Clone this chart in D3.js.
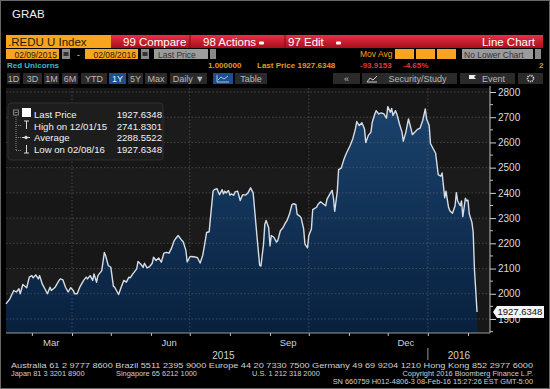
<!DOCTYPE html>
<html><head><meta charset="utf-8">
<script src="https://cdn.jsdelivr.net/npm/d3@7/dist/d3.min.js"></script>
<style>html,body{margin:0;padding:0;background:#000;overflow:hidden}svg{display:block}</style>
</head><body>
<script>
// ---------- data ----------
const dates = ["2015-02-09","2015-02-12","2015-02-15","2015-02-17","2015-02-19","2015-02-20","2015-02-22","2015-02-25","2015-02-27","2015-03-01","2015-03-02","2015-03-04","2015-03-06","2015-03-07","2015-03-09","2015-03-11","2015-03-13","2015-03-15","2015-03-16","2015-03-19","2015-03-22","2015-03-23","2015-03-25","2015-03-27","2015-03-29","2015-03-31","2015-04-02","2015-04-03","2015-04-05","2015-04-07","2015-04-10","2015-04-12","2015-04-13","2015-04-15","2015-04-17","2015-04-18","2015-04-20","2015-04-21","2015-04-24","2015-04-26","2015-04-27","2015-04-29","2015-05-01","2015-05-03","2015-05-04","2015-05-07","2015-05-09","2015-05-11","2015-05-13","2015-05-15","2015-05-16","2015-05-18","2015-05-21","2015-05-22","2015-05-24","2015-05-26","2015-05-27","2015-05-29","2015-05-31","2015-06-02","2015-06-03","2015-06-05","2015-06-07","2015-06-09","2015-06-11","2015-06-13","2015-06-15","2015-06-17","2015-06-19","2015-06-20","2015-06-22","2015-06-23","2015-06-25","2015-06-26","2015-06-28","2015-06-29","2015-07-01","2015-07-02","2015-07-05","2015-07-07","2015-07-09","2015-07-11","2015-07-13","2015-07-14","2015-07-16","2015-07-17","2015-07-19","2015-07-20","2015-07-22","2015-07-23","2015-07-24","2015-07-26","2015-07-27","2015-07-28","2015-07-29","2015-07-31","2015-08-01","2015-08-02","2015-08-04","2015-08-05","2015-08-07","2015-08-09","2015-08-10","2015-08-11","2015-08-13","2015-08-15","2015-08-17","2015-08-19","2015-08-20","2015-08-22","2015-08-24","2015-08-25","2015-08-27","2015-08-28","2015-08-29","2015-08-31","2015-09-01","2015-09-02","2015-09-04","2015-09-06","2015-09-07","2015-09-09","2015-09-11","2015-09-13","2015-09-14","2015-09-16","2015-09-18","2015-09-19","2015-09-21","2015-09-22","2015-09-24","2015-09-25","2015-09-27","2015-09-28","2015-09-30","2015-10-01","2015-10-03","2015-10-04","2015-10-07","2015-10-08","2015-10-10","2015-10-12","2015-10-14","2015-10-15","2015-10-17","2015-10-19","2015-10-20","2015-10-21","2015-10-23","2015-10-24","2015-10-26","2015-10-28","2015-10-30","2015-11-02","2015-11-04","2015-11-06","2015-11-07","2015-11-09","2015-11-11","2015-11-13","2015-11-14","2015-11-16","2015-11-18","2015-11-19","2015-11-21","2015-11-22","2015-11-24","2015-11-26","2015-11-28","2015-11-30","2015-12-01","2015-12-03","2015-12-04","2015-12-05","2015-12-07","2015-12-08","2015-12-10","2015-12-12","2015-12-13","2015-12-15","2015-12-17","2015-12-19","2015-12-20","2015-12-22","2015-12-24","2015-12-26","2015-12-28","2015-12-30","2015-12-31","2016-01-02","2016-01-03","2016-01-05","2016-01-07","2016-01-09","2016-01-11","2016-01-12","2016-01-14","2016-01-15","2016-01-17","2016-01-18","2016-01-20","2016-01-22","2016-01-23","2016-01-24","2016-01-26","2016-01-27","2016-01-28","2016-01-30","2016-01-31","2016-02-01","2016-02-02","2016-02-04","2016-02-05","2016-02-06","2016-02-08"];
const prices = [1960,1980,2013,2007,2020,2000,2037,2024,2066,2072,2063,2075,2059,2072,2039,2020,2000,2026,2013,2026,2053,2059,2055,2026,2007,2024,2013,2000,2000,2026,2053,2066,2059,2072,2053,2079,2046,2072,2092,2164,2151,2112,2105,2029,2026,1997,2026,2053,2046,2066,2063,2079,2099,2128,2118,2105,2121,2103,2108,2121,2145,2132,2142,2125,2161,2164,2161,2182,2211,2218,2231,2224,2211,2205,2172,2126,2146,2148,2146,2143,2122,2152,2211,2243,2246,2302,2407,2413,2417,2404,2393,2413,2396,2407,2400,2409,2391,2396,2391,2404,2407,2370,2383,2393,2391,2400,2420,2400,2341,2224,2113,2110,2197,2276,2291,2262,2190,2231,2224,2205,2211,2250,2262,2282,2289,2315,2354,2357,2354,2315,2308,2302,2257,2197,2182,2231,2257,2334,2343,2354,2365,2357,2349,2374,2393,2410,2381,2327,2407,2492,2498,2531,2557,2589,2615,2654,2683,2667,2678,2654,2600,2628,2641,2680,2713,2726,2713,2717,2713,2696,2741.8301,2720,2735,2707,2726,2713,2674,2641,2605,2641,2693,2654,2631,2641,2652,2657,2687,2733,2693,2667,2596,2576,2557,2472,2466,2479,2381,2407,2342,2329,2319,2349,2401,2368,2349,2368,2306,2379,2368,2371,2316,2284,2245,2095,1927.6348];
const yTicks = [1900,2000,2100,2200,2300,2400,2500,2600,2700,2800];
const monthLabels = [["2015-03-16","Mar"],["2015-06-15","Jun"],["2015-09-15","Sep"],["2015-12-15","Dec"]];
const yearLabels = [["2015-07-27","2015"],["2016-01-25","2016"]];
const quarterLines = ["2015-04-01","2015-07-01","2015-10-01","2016-01-01"];
const legendLabels = ["Last Price","High on 12/01/15","Average","Low on 02/08/16"];
const legendValues = ["1927.6348","2741.8301","2288.5522","1927.6348"];
const lastPriceLabel = "1927.6348";
const footerLines = [
 "Australia 61 2 9777 8600 Brazil 5511 2395 9000 Europe 44 20 7330 7500 Germany 49 69 9204 1210 Hong Kong 852 2977 6000",
 "Japan 81 3 3201 8900",
 "Singapore 65 6212 1000",
 "U.S. 1 212 318 2000",
 "Copyright 2016 Bloomberg Finance L.P.",
 "SN 660759 H012-4806-3 08-Feb-16 15:27:26 EST  GMT-5:00"
];

// ---------- setup ----------
const W = 550, H = 389;
const FONT = "'Liberation Sans', Arial, sans-serif";
const svg = d3.select("body").append("svg").attr("width", W).attr("height", H)
  .style("font-family", FONT);
svg.append("rect").attr("width", W).attr("height", H).attr("fill", "#000");
const defs = svg.append("defs");

const parse = d3.timeParse("%Y-%m-%d");
const data = dates.map((d, i) => ({date: parse(d), value: prices[i]}));

// plot area
const PL = 6, PR = 490, PT = 88, PB = 333;
const x = d3.scaleTime().domain([parse("2015-02-09"), parse("2016-02-18")]).range([PL, PR]);
const y = d3.scaleLinear().domain([1900, 2800]).range([319, 92]);

// ---------- header ----------
svg.append("text").attr("x", 12).attr("y", 18).attr("fill", "#f0f0f0")
  .attr("font-size", 11.5).text("GRAB");

const orange = "#f7a51e";
// row 1
svg.append("rect").attr("x", 6).attr("y", 35).attr("width", 105).attr("height", 13).attr("fill", orange);
svg.append("text").attr("x", 8).attr("y", 45.5).attr("font-size", 11.5).attr("fill", "#2a1a00").text(".REDU U Index");
const redGrad = defs.append("linearGradient").attr("id", "red").attr("x1", 0).attr("x2", 0).attr("y1", 0).attr("y2", 1);
redGrad.append("stop").attr("offset", 0).attr("stop-color", "#e83040");
redGrad.append("stop").attr("offset", 1).attr("stop-color", "#a80f1e");
svg.append("rect").attr("x", 111).attr("y", 35).attr("width", 432).attr("height", 13).attr("fill", "url(#red)");
[190, 285].forEach(xx => svg.append("line").attr("x1", xx).attr("x2", xx).attr("y1", 35).attr("y2", 48).attr("stroke", "#7a0a14"));
const redTexts = [[123, "99 Compare"], [203, "98 Actions"], [288, "97 Edit"]];
redTexts.forEach(t => svg.append("text").attr("x", t[0]).attr("y", 45.5).attr("font-size", 11.5).attr("fill", "#fff").text(t[1]));
[[259, 41.5], [336, 41.5]].forEach(p => svg.append("rect").attr("x", p[0]).attr("y", p[1]).attr("width", 5).attr("height", 3).attr("rx", 1).attr("fill", "#fff"));
svg.append("text").attr("x", 535).attr("y", 45.5).attr("font-size", 11.5).attr("fill", "#fff").attr("text-anchor", "end").text("Line Chart");

// row 2
function box(xx, yy, w, h, fill) { return svg.append("rect").attr("x", xx).attr("y", yy).attr("width", w).attr("height", h).attr("fill", fill); }
box(6, 49, 53, 10, orange);
svg.append("text").attr("x", 57).attr("y", 57.5).attr("font-size", 8.5).attr("fill", "#2a1a00").attr("text-anchor", "end").text("02/09/2015");
box(62, 49, 8, 10, "#8a8a8a"); box(63.5, 52, 5, 4, "#333");
svg.append("text").attr("x", 77).attr("y", 57.5).attr("font-size", 8.5).attr("fill", "#ddd").text("-");
box(85, 49, 53, 10, orange);
svg.append("text").attr("x", 136).attr("y", 57.5).attr("font-size", 8.5).attr("fill", "#2a1a00").attr("text-anchor", "end").text("02/08/2016");
box(141, 49, 8, 10, "#8a8a8a"); box(142.5, 52, 5, 4, "#333");
box(154, 49, 54, 10, "#9b9b9b");
svg.append("text").attr("x", 158).attr("y", 57.5).attr("font-size", 8.5).attr("fill", "#333").text("Last Price");
box(210, 49, 6, 10, "#8a8a8a");
svg.append("text").attr("x", 360).attr("y", 57).attr("font-size", 8.5).attr("fill", orange).text("Mov Avg");
[395, 416, 437].forEach(xx => box(xx, 49, 19, 10, orange));
box(462, 49, 71, 10, "#9b9b9b");
svg.append("text").attr("x", 464).attr("y", 57.5).attr("font-size", 8.5).attr("fill", "#333").text("No Lower Chart");
box(535, 49, 6, 10, "#8a8a8a");

// row 3
svg.append("text").attr("x", 7).attr("y", 68).attr("font-size", 8).attr("font-weight", "bold").attr("fill", "#3fb9c0").text("Red Unicorns");
svg.append("text").attr("x", 208).attr("y", 68).attr("font-size", 8).attr("font-weight", "bold").attr("fill", "#e09a20").text("1.000000");
svg.append("text").attr("x", 257).attr("y", 68).attr("font-size", 8).attr("font-weight", "bold").attr("fill", "#e09a20").text("Last Price 1927.6348");
svg.append("text").attr("x", 360).attr("y", 68).attr("font-size", 8).attr("font-weight", "bold").attr("fill", "#e8333a").text("-93.9153");
svg.append("text").attr("x", 403).attr("y", 68).attr("font-size", 8).attr("font-weight", "bold").attr("fill", "#e8333a").text("-4.65%");
svg.append("text").attr("x", 539).attr("y", 68).attr("font-size", 8).attr("font-weight", "bold").attr("fill", "#e09a20").text("2");

// row 4 buttons
const btns = [[7,13,"1D"],[23,19,"3D"],[44,15,"1M"],[62,16,"6M"],[81,26,"YTD"],[109,17,"1Y",1],[128,15,"5Y"],[145,22,"Max"],[170,37,"Daily ▼"],[213,20,"",1],[235,32,"Table"],[333,27,"«"],[362,95,"Security/Study"],[460,55,"Event"],[518,25,""]];
btns.forEach(b => {
  box(b[0], 73, b[1], 11, b[3] ? "#1d4f8f" : "#2a2a2a");
  if (b[2]) svg.append("text").attr("x", b[0] + b[1] / 2 + (b[2] === "Security/Study" ? 8 : b[2] === "Event" ? 6 : 0)).attr("y", 81.5)
    .attr("font-size", 9).attr("text-anchor", "middle").attr("fill", b[3] ? "#e8eef8" : "#b8b8b8").text(b[2]);
});
// chart icon
svg.append("path").attr("d", "M217,75 V82 H229 M218,80 L221,77 L224,79 L228,76").attr("fill", "none").attr("stroke", "#cfe0ff").attr("stroke-width", 0.8);
// security icon
svg.append("path").attr("d", "M367,82 L370,78 L373,80 L377,76 M367,82 H377").attr("fill", "none").attr("stroke", "#ccc").attr("stroke-width", 1);
// flag
svg.append("path").attr("d", "M469,83 V75 H476 L474,77 L476,79 H469").attr("fill", "#eee");
// gear
svg.append("circle").attr("cx", 530.5).attr("cy", 78.5).attr("r", 3).attr("fill", "none").attr("stroke", "#ddd").attr("stroke-width", 1.6).attr("stroke-dasharray", "1.2,0.9");
svg.append("circle").attr("cx", 530.5).attr("cy", 78.5).attr("r", 1).attr("fill", "#2a2a2a");

// ---------- plot ----------
svg.append("rect").attr("x", PL).attr("y", PT).attr("width", PR - PL).attr("height", PB - PT).attr("fill", "#171717");
yTicks.slice(0, -1).forEach((t, i) => {
  if (i % 2 === 1) svg.append("rect").attr("x", PL).attr("width", PR - PL).attr("y", y(t + 100)).attr("height", y(t) - y(t + 100)).attr("fill", "#1b1b1b");
});

const areaGrad = defs.append("linearGradient").attr("id", "area").attr("gradientUnits", "userSpaceOnUse")
  .attr("x1", 0).attr("x2", 0).attr("y1", PT).attr("y2", PB);
areaGrad.append("stop").attr("offset", 0).attr("stop-color", "#1c4570");
areaGrad.append("stop").attr("offset", 1).attr("stop-color", "#08203e");

svg.append("path").datum(data)
  .attr("d", d3.area().x(d => x(d.date)).y0(PB).y1(d => y(d.value)))
  .attr("fill", "url(#area)");

// gridlines
const grid = svg.append("g").attr("stroke", "#6a6a6a").attr("stroke-width", 0.7).attr("stroke-dasharray", "1.5,2").attr("opacity", 0.8);
yTicks.forEach(t => grid.append("line").attr("x1", PL).attr("x2", PR).attr("y1", y(t)).attr("y2", y(t)));
quarterLines.forEach(q => grid.append("line").attr("x1", x(parse(q))).attr("x2", x(parse(q))).attr("y1", PT).attr("y2", PB));

svg.append("path").datum(data)
  .attr("d", d3.line().x(d => x(d.date)).y(d => y(d.value)))
  .attr("fill", "none").attr("stroke", "#d6dde4").attr("stroke-width", 1.4).attr("stroke-linejoin", "round");

// y axis
const yAxis = d3.axisRight(y).tickValues(yTicks).tickSize(6).tickPadding(2).tickFormat(d3.format("d"));
const gy = svg.append("g").attr("transform", `translate(${PR},0)`).call(yAxis);
gy.select(".domain").remove();
gy.selectAll("text").attr("fill", "#dcdcdc").attr("font-size", 10).attr("font-family", FONT);
gy.selectAll(".tick line").attr("stroke", "#cfcfcf");
svg.append("line").attr("x1", PR).attr("x2", PR).attr("y1", PT - 2).attr("y2", PB).attr("stroke", "#bdbdbd");
d3.range(1850, 2850, 100).forEach(v => svg.append("line").attr("x1", PR).attr("x2", PR + 3).attr("y1", y(v)).attr("y2", y(v)).attr("stroke", "#bdbdbd"));

// last price tag
const ly = y(prices[prices.length - 1]);
svg.append("path").attr("d", `M${PR + 3},${ly} L${PR + 7},${ly - 6} H544 V${ly + 6} H${PR + 7} Z`).attr("fill", "#f4f4f4");
svg.append("text").attr("x", PR + 7.5).attr("y", ly + 3.4).attr("font-size", 9.5).attr("fill", "#111").text(lastPriceLabel);

// x axis
svg.append("line").attr("x1", PL).attr("x2", PR).attr("y1", PB).attr("y2", PB).attr("stroke", "#9a9a9a");
const xAxis = d3.axisBottom(x).ticks(d3.timeMonth.every(1)).tickSize(3).tickFormat("");
const gx = svg.append("g").attr("transform", `translate(0,${PB})`).call(xAxis);
gx.select(".domain").remove();
gx.selectAll(".tick line").attr("stroke", "#bdbdbd");
monthLabels.forEach(m => svg.append("text").attr("x", x(parse(m[0]))).attr("y", 346).attr("text-anchor", "middle")
  .attr("font-size", 9.5).attr("fill", "#d0d0d0").text(m[1]));
yearLabels.forEach(m => svg.append("text").attr("x", x(parse(m[0]))).attr("y", 359).attr("text-anchor", "middle")
  .attr("font-size", 10).attr("fill", "#d0d0d0").text(m[1]));
svg.append("line").attr("x1", x(parse("2016-01-01"))).attr("x2", x(parse("2016-01-01"))).attr("y1", 348).attr("y2", 360).attr("stroke", "#999");

// ---------- legend ----------
svg.append("rect").attr("x", 8).attr("y", 103).attr("width", 155).attr("height", 57).attr("rx", 3)
  .attr("fill", "#1e1e1e").attr("fill-opacity", 0.95).attr("stroke", "#303030");
const lgY = [118, 129.5, 141, 153];
legendLabels.forEach((l, i) => {
  svg.append("text").attr("x", 34).attr("y", lgY[i]).attr("font-size", 9.6).attr("fill", "#f2f2f2").text(l);
  svg.append("text").attr("x", 162).attr("y", lgY[i]).attr("font-size", 9.6).attr("fill", "#f2f2f2").attr("text-anchor", "end").text(legendValues[i]);
});
const tg = svg.append("g").attr("stroke", "#9a9a9a").attr("stroke-width", 0.8).attr("fill", "none");
tg.append("rect").attr("x", 13.5).attr("y", 110).attr("width", 5).attr("height", 5);
tg.append("line").attr("x1", 14.5).attr("x2", 17.5).attr("y1", 112.5).attr("y2", 112.5);
tg.append("line").attr("x1", 16).attr("x2", 16).attr("y1", 115).attr("y2", 150.5).attr("stroke-dasharray", "1,1");
[125.5, 137.5, 150.5].forEach(v => tg.append("line").attr("x1", 16).attr("x2", 21).attr("y1", v).attr("y2", v).attr("stroke-dasharray", "1,1"));
svg.append("rect").attr("x", 22).attr("y", 108).attr("width", 9).attr("height", 9).attr("fill", "#fff");
const ig = svg.append("g").attr("stroke", "#dcdcdc").attr("stroke-width", 1).attr("fill", "none");
ig.append("path").attr("d", "M24,121 H29 M26.5,121 V129");
ig.append("path").attr("d", "M22,137.5 H30");
ig.append("circle").attr("cx", 26).attr("cy", 137.5).attr("r", 1.3).attr("fill", "#dcdcdc");
ig.append("path").attr("d", "M26.5,145 V153 M24,153 H29");

// ---------- footer ----------
const fstyle = s => s.attr("font-size", 7.4).attr("fill", "#d0d0d0");
fstyle(svg.append("text").attr("x", 11).attr("y", 368).attr("textLength", 522).attr("lengthAdjust", "spacingAndGlyphs").text(footerLines[0]));
fstyle(svg.append("text").attr("x", 11).attr("y", 376).text(footerLines[1]));
fstyle(svg.append("text").attr("x", 116).attr("y", 376).text(footerLines[2]));
fstyle(svg.append("text").attr("x", 252).attr("y", 376).text(footerLines[3]));
fstyle(svg.append("text").attr("x", 533).attr("y", 376).attr("text-anchor", "end").text(footerLines[4]));
fstyle(svg.append("text").attr("x", 533).attr("y", 384).attr("text-anchor", "end").text(footerLines[5]));
svg.append("rect").attr("x", 0.5).attr("y", 0.5).attr("width", W - 1).attr("height", H - 1).attr("fill", "none").attr("stroke", "#cfcfcf").attr("stroke-opacity", 0.5);
</script>
</body></html>
